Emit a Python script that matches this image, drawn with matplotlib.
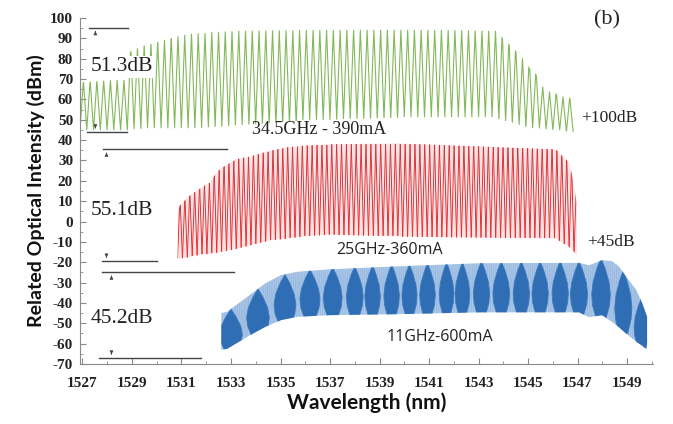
import numpy as np
import matplotlib.pyplot as plt
from matplotlib.collections import LineCollection
from matplotlib.patches import Polygon

plt.rcParams['axes.unicode_minus'] = False

# comb line spacings (GHz), centre wavelength for conversion to nm
comb_ghz = [34.5, 25.0, 11.0]
lam_c = 1540.0

# envelopes (nm, displayed dBm incl. offset)
green_wl = [1526.9, 1528.78, 1528.9, 1529.42, 1530.0, 1530.5, 1531.2, 1532.0, 1533.06,
            1535.76, 1537.4, 1539.8, 1543.71, 1543.96, 1544.24, 1544.52, 1544.76,
            1545.05, 1545.33, 1545.57, 1545.85, 1546.38, 1546.94]
green_top = [68, 69.5, 83, 85.8, 87.6, 89.5, 91.6, 92.5, 93.3, 93.8, 94, 94.1, 93.3,
             90, 86.7, 83.4, 80.2, 75.3, 72, 66.2, 63.8, 61.3, 59.7]
green_bot = [45, 45, 45.5, 46, 46, 46, 46, 46.5, 47.4, 49.9, 50.5, 51.4, 51.4, 50,
             49.5, 48.4, 47.5, 46.4, 46, 45.9, 45.5, 45, 44]

red_wl = [1530.84, 1530.92, 1531.32, 1531.72, 1532.13, 1532.53, 1533.22, 1533.86,
          1534.55, 1535.24, 1535.88, 1536.97, 1539.8, 1546.14, 1546.38, 1546.66,
          1546.82, 1546.98]
red_top = [3, 7.3, 12.2, 15.5, 18.9, 25.3, 30.2, 31.8, 34.3, 36, 36.8, 37.6, 38, 35,
           31.8, 28.6, 20, 8]
red_bot = [-18, -18, -17, -16, -15.5, -14.8, -13, -11, -9, -8, -7, -6, -7, -8, -10,
           -12, -14, -16]

blue_wl = [1532.61, 1532.85, 1533.66, 1534.39, 1535.03, 1535.68, 1536.97, 1539.8,
           1543.03, 1547.06, 1547.47, 1547.99, 1548.4, 1548.68, 1548.96, 1549.37,
           1549.61, 1549.81]
blue_top = [-45, -44.3, -37, -30.4, -26.3, -24.7, -23.5, -22, -20.5, -20.3, -21.5, -19,
            -19.5, -22.2, -27, -33.6, -40, -46.8]
blue_bot = [-63, -62.5, -56.6, -51.7, -48.4, -46.8, -46, -45.5, -44.6, -44.6, -47, -46,
            -49.3, -52, -55, -59, -61, -63]

# dark lobes in the 11 GHz trace
lobe_wl = [1533.0, 1534.09, 1535.18, 1536.19, 1537.11, 1538.0, 1538.72, 1539.49,
           1540.21, 1540.94, 1541.71, 1542.35, 1543.12, 1543.92, 1544.73, 1545.49,
           1546.30, 1547.06, 1547.95, 1548.85, 1549.6]
lobe_top = [-44, -34, -27, -24.5, -23.5, -23, -22.5, -22, -22, -21.5, -21, -21, -20.5,
            -20.5, -20.5, -20.5, -20.5, -20.5, -19, -25, -38]
lobe_bot = [-63, -56, -50, -47, -46.5, -46, -46, -46, -45.5, -45.5, -45, -45, -45, -45,
            -45, -45, -45, -45.5, -47, -54, -61]

# dynamic range markers: (x0, x1, y, arrow x, arrow direction)
range_lines = [(1527.28, 1528.82, 95.3, 1527.52, -1), (1527.2, 1528.78, 44.0, 1527.52, 1),
               (1527.81, 1532.85, 35.6, 1527.97, -1), (1527.77, 1529.99, -19.5, 1527.97, 1),
               (1527.77, 1533.14, -24.8, 1528.17, -1), (1527.65, 1531.8, -67.1, 1528.17, 1)]
range_text = ['51.3dB', '55.1dB', '45.2dB']
range_text_y = [76, 5.6, -47.4]


def comb_nm(ghz):
    return (lam_c * 1e-9) ** 2 * ghz * 1e9 / 299792458.0 * 1e9


def zigzag(wl, top, bot, step):
    x = np.arange(wl[0], wl[-1], step / 2)
    seg = np.clip(np.searchsorted(wl, x, side='right') - 1, 0, len(wl) - 2)
    hi = np.maximum(np.take(top, seg), np.take(top, seg + 1))
    lo = np.minimum(np.take(bot, seg), np.take(bot, seg + 1))
    y = np.where(np.arange(len(x)) % 2 == 0, lo, hi)
    return x, y


def envelope(ax, wl, top, bot, **kw):
    verts = list(zip(wl, top)) + list(zip(wl[::-1], bot[::-1]))
    p = Polygon(verts, closed=True, **kw)
    ax.add_patch(p)
    return p


fig = plt.figure(figsize=(6.73, 4.24), dpi=100)
ax = fig.add_axes([0.1189, 0.1415, 0.8514, 0.816])

# green, 34.5 GHz
clip_g = envelope(ax, green_wl, np.array(green_top) + 0.4, np.array(green_bot) - 0.4,
                  facecolor='none', edgecolor='none')
gx, gy = zigzag(green_wl, green_top, green_bot, comb_nm(comb_ghz[0]))
ln, = ax.plot(gx, gy, color='#83b95a', lw=0.8)
ln.set_clip_path(clip_g)

# red, 25 GHz
clip_r = envelope(ax, red_wl, np.array(red_top) + 0.4, np.array(red_bot) - 0.4,
                  facecolor='#fbe3e3', edgecolor='none')
rx, ry = zigzag(red_wl, red_top, red_bot, comb_nm(comb_ghz[1]))
pts = np.column_stack([rx, ry])
segs = np.stack([pts[:-1], pts[1:]], axis=1)
cols = ['#ff2020' if i % 2 == 0 else '#b83440' for i in range(len(segs))]
lc = LineCollection(segs, colors=cols, linewidths=0.65)
ax.add_collection(lc)
lc.set_clip_path(clip_r)

# blue, 11 GHz
clip_b = envelope(ax, blue_wl, blue_top, blue_bot, facecolor='#abc7e7', edgecolor='none')
bx, by = zigzag(blue_wl, blue_top, blue_bot, comb_nm(comb_ghz[2]))
ln, = ax.plot(bx, by, color='#97b8df', lw=0.45)
ln.set_clip_path(clip_b)
gaps = np.gradient(lobe_wl)
for c, t, b, g in zip(lobe_wl, lobe_top, lobe_bot, gaps):
    hw = 0.42 * g
    h = t - b
    shape = [(c, t + 1), (c + 0.45 * hw, t - 0.15 * h), (c + 0.85 * hw, t - 0.38 * h),
             (c + hw, t - 0.6 * h), (c + 0.9 * hw, t - 0.8 * h), (c + 0.5 * hw, b - 1),
             (c - 0.5 * hw, b - 1), (c - 0.9 * hw, t - 0.8 * h), (c - hw, t - 0.6 * h),
             (c - 0.85 * hw, t - 0.38 * h), (c - 0.45 * hw, t - 0.15 * h)]
    lobe = Polygon(shape, closed=True, facecolor='#2f6db4', edgecolor='#3a78be',
                   lw=0.6, zorder=2.5)
    ax.add_patch(lobe)
    lobe.set_clip_path(clip_b)

# dynamic range markers
for x0, x1, y, xa, d in range_lines:
    ax.plot([x0, x1], [y, y], color='#444444', lw=1.0)
    ax.annotate('', xy=(xa, y + d * 0.4), xytext=(xa, y + d * 3.5),
                arrowprops=dict(arrowstyle='-|>', color='#444444', lw=0.6,
                                mutation_scale=5))
for s, y in zip(range_text, range_text_y):
    ax.text(1528.6, y, s, ha='center', va='center', family='Liberation Serif',
            fontsize=15.5, color='#222222', zorder=4,
            bbox=dict(facecolor='white', edgecolor='none', pad=1))

serif = dict(family='Liberation Serif', color='#222222')
sans = dict(family='Open Sans', color='#222222')
ax.text(1536.57, 45, '34.5GHz - 390mA', ha='center', va='center', fontsize=13, **serif)
ax.text(1547.15, 50.9, '+100dB', ha='left', va='center', fontsize=12.5, **serif)
ax.text(1539.39, -14, '25GHz-360mA', ha='center', va='center', fontsize=11.5, **sans)
ax.text(1547.39, -10, '+45dB', ha='left', va='center', fontsize=12.5, **serif)
ax.text(1541.45, -56.8, '11GHz-600mA', ha='center', va='center', fontsize=11.5, **sans)
ax.text(1548.2, 99, '(b)', ha='center', va='center', fontsize=16, clip_on=False, **serif)

ax.set_xlim(1526.9, 1550.05)
ax.set_ylim(-70, 100)
ax.set_xticks(np.arange(1527, 1550, 2))
ax.set_xticks(np.arange(1527, 1551, 1), minor=True)
ax.set_yticks(np.arange(-70, 101, 10))
ax.set_yticks(np.arange(-70, 101, 5), minor=True)
for sp in ['top', 'right']:
    ax.spines[sp].set_visible(False)
for sp in ['left', 'bottom']:
    ax.spines[sp].set_color('#8a8a8a')
ax.tick_params(which='both', direction='in', color='#8a8a8a', length=4)
ax.tick_params(which='minor', length=2.5)
ax.tick_params(axis='y', pad=5)
ax.tick_params(axis='x', pad=9)
for lab in ax.get_xticklabels() + ax.get_yticklabels():
    lab.set_family('Liberation Serif')
    lab.set_fontweight('bold')
    lab.set_fontsize(11)
    lab.set_color('#222222')

ax.set_xlabel('Wavelength (nm)', family='Lato', fontweight='bold', fontsize=15,
              color='#111111', labelpad=2)
ax.set_ylabel('Related Optical Intensity (dBm)', family='Lato', fontweight='bold',
              fontsize=14, color='#111111', labelpad=4)

fig.savefig('out.png', dpi=100)
